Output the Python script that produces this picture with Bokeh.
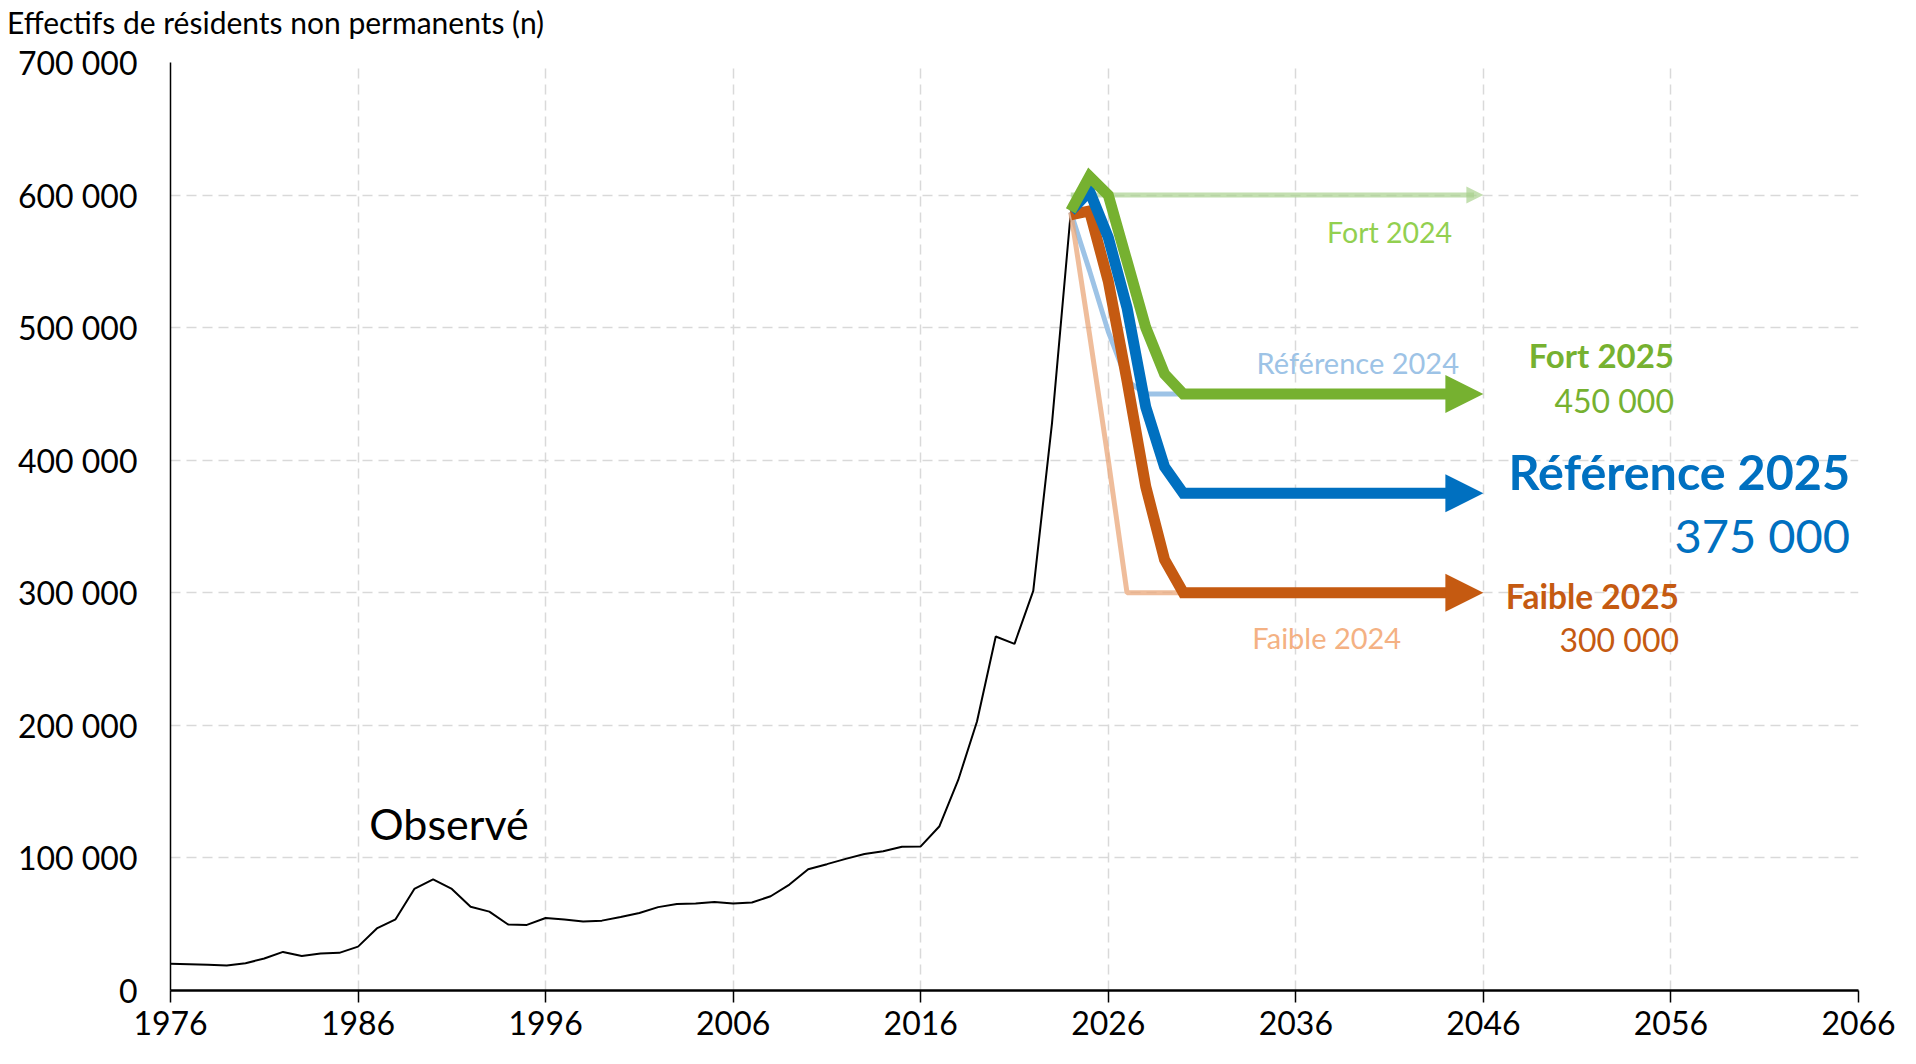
from bokeh.plotting import figure
from bokeh.models import Label, Arrow, NormalHead, FixedTicker, Div
from bokeh.layouts import column
from bokeh.embed import file_html
from bokeh.resources import INLINE

# ---------------- data ----------------
obs_years = list(range(1976, 2025))
observed = [20100, 19800, 19400, 18900, 20600, 24100, 29100, 26100, 27900, 28400,
            33100, 46800, 53700, 76600, 83800, 76600, 63200, 59500, 49800, 49500,
            54700, 53500, 52000, 52700, 55500, 58500, 62900, 65200, 65700, 66700,
            65700, 66400, 71100, 79900, 91500, 95300, 99300, 103000, 105000, 108500,
            108700, 123900, 158800, 202900, 267000, 261500, 301400, 428000, 587000]

proj_years = [2024, 2025, 2026, 2027, 2028, 2029, 2030]
fort_2025 = [588000, 614000, 600000, 550000, 500000, 465000, 450000]
ref_2025 = [588000, 603000, 568000, 515000, 440000, 395000, 375000]
faible_2025 = [585000, 588000, 535000, 460000, 380000, 325000, 300000]

fort24_years = [2024, 2046]
fort_2024 = [600000, 600000]
ref24_years = [2024, 2025, 2026, 2027, 2028, 2045]
ref_2024 = [587000, 543000, 497000, 460000, 450000, 450000]
faible24_years = [2024, 2025, 2026, 2027, 2045]
faible_2024 = [587000, 495000, 400000, 300000, 300000]

arrow_end_year = 2046

x_ticks = [1976, 1986, 1996, 2006, 2016, 2026, 2036, 2046, 2056, 2066]
y_ticks = [0, 100000, 200000, 300000, 400000, 500000, 600000, 700000]
y_tick_labels = ["0", "100 000", "200 000", "300 000", "400 000", "500 000", "600 000", "700 000"]

title_text = "Effectifs de résidents non permanents (n)"

# ---------------- styles ----------------
FONT = "Lato"
GREEN = "#76B130"
BLUE = "#0070C0"
ORANGE = "#C55A11"
L_GREEN = "#A9D18E"
L_BLUE = "#9DC3E6"
L_ORANGE = "#E9A77A"

title_div = Div(text=title_text, width=1893, height=36, margin=(4, 0, 0, 7),
                styles={"font-family": FONT, "font-size": "30px", "line-height": "36px",
                        "color": "black", "white-space": "nowrap"})

p = figure(width=1900, height=1008, x_range=(1976, 2066), y_range=(0, 700000),
           output_backend="svg", toolbar_location=None,
           min_border_left=170, min_border_right=42, min_border_top=22, min_border_bottom=58)
p.outline_line_color = None
p.background_fill_color = "white"
p.border_fill_color = "white"

# axes
p.xaxis.ticker = FixedTicker(ticks=x_ticks)
p.yaxis.ticker = FixedTicker(ticks=y_ticks)
p.yaxis.major_label_overrides = {t: l for t, l in zip(y_ticks, y_tick_labels)}
p.xaxis.major_label_overrides = {t: str(t) for t in x_ticks}
for ax in (p.xaxis, p.yaxis):
    ax.major_label_text_font = FONT
    ax.major_label_text_font_size = "32px"
    ax.major_label_text_color = "black"
    ax.axis_line_color = "black"
    ax.minor_tick_line_color = None
p.xaxis.axis_line_width = 2.5
p.xaxis.major_tick_line_color = "black"
p.xaxis.major_tick_line_width = 1.5
p.xaxis.major_tick_out = 12
p.xaxis.major_tick_in = 0
p.xaxis.major_label_standoff = 8
p.yaxis.axis_line_width = 1.5
p.yaxis.major_tick_line_color = None
p.yaxis.major_label_standoff = 27

# grid
for g in (p.xgrid, p.ygrid):
    g.grid_line_color = "#D9D9D9"
    g.grid_line_dash = "10 6"
    g.grid_line_width = 1.5

# observed
p.line(obs_years, observed, line_color="black", line_width=2)

# 2024 projections (light)
p.line(fort24_years[:1] + [arrow_end_year - 0.5], fort_2024, line_color=L_GREEN, line_width=5, line_alpha=0.7)
p.add_layout(Arrow(end=NormalHead(size=17, fill_color=L_GREEN, line_color=L_GREEN, fill_alpha=0.7, line_alpha=0.0),
                   x_start=arrow_end_year - 0.5, y_start=fort_2024[-1], x_end=arrow_end_year, y_end=fort_2024[-1],
                   line_color=L_GREEN, line_width=5, line_alpha=0.7))
p.line(ref24_years, ref_2024, line_color=L_BLUE, line_width=5, line_alpha=1.0)
p.line(faible24_years, faible_2024, line_color=L_ORANGE, line_width=5, line_alpha=0.75)

# 2025 projections
for yrs, vals, col in ((proj_years, faible_2025, ORANGE), (proj_years, ref_2025, BLUE), (proj_years, fort_2025, GREEN)):
    xs = yrs + [arrow_end_year - 1]
    ys = vals + [vals[-1]]
    p.line(xs, ys, line_color=col, line_width=11, line_join="miter")
    p.add_layout(Arrow(end=NormalHead(size=38, fill_color=col, line_color=col, line_width=0),
                       x_start=arrow_end_year - 1.2, y_start=vals[-1], x_end=arrow_end_year, y_end=vals[-1],
                       line_color=col, line_width=11))

# labels
def lab(x, y, text, color, size, align="center", style="normal"):
    p.add_layout(Label(x=x, y=y, text=text, text_color=color, text_font=FONT, text_font_size=size,
                       text_align=align, text_baseline="middle", text_font_style=style))

lab(2041.0, 572000, "Fort 2024", "#92D050", "28.5px")
lab(2039.3, 474000, "Référence 2024", L_BLUE, "29px")
lab(2037.65, 266000, "Faible 2024", "#F4B183", "29px")
lab(2056.16, 479500, "Fort 2025", GREEN, "33px", align="right", style="bold")
lab(2056.16, 445000, "450 000", GREEN, "32px", align="right")
lab(2065.55, 392000, "Référence 2025", BLUE, "48.5px", align="right", style="bold")
lab(2065.55, 343500, "375 000", BLUE, "47px", align="right")
lab(2056.43, 297500, "Faible 2025", ORANGE, "33.5px", align="right", style="bold")
lab(2056.43, 264500, "300 000", ORANGE, "32px", align="right")
lab(1986.6, 126000, "Observé", "black", "43px", align="left")

layout = column(title_div, p, spacing=0)
open("out.html", "w").write(file_html(layout, INLINE))
